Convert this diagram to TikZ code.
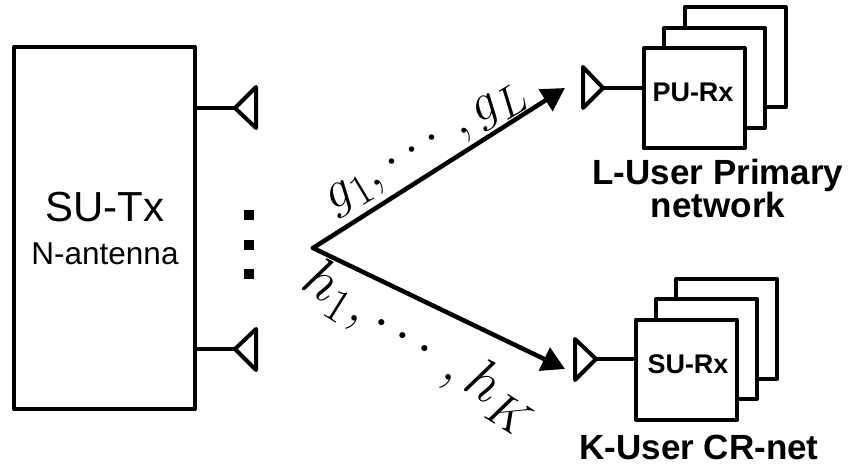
\documentclass[tikz,border=0pt]{standalone}
\usepackage{amsmath, amssymb}
\usepackage{fontspec}
\setmainfont{Liberation Sans}
\usepackage{tikz}
\usetikzlibrary{arrows.meta, positioning}

\tikzset{
    blockbox/.style={draw=black, fill=white, line width=4pt, line join=round, inner sep=0pt, outer sep=0pt},
    rxbox/.style={blockbox, minimum width=101pt, minimum height=100pt},
    wire/.style={line width=3.5pt},
    antenna/.style={line width=4pt, line join=round},
    linkarrow/.style={-{Triangle[length=23pt,width=25pt]}, line width=4.5pt, line cap=round},
    dotmark/.style={fill=black, inner sep=0pt, outer sep=0pt, minimum size=10pt},
    netlabel/.style={font=\fontsize{35}{40}\selectfont\bfseries, align=center, inner sep=0pt},
    rxlabel/.style={font=\fontsize{27}{30}\selectfont\bfseries, inner sep=0pt},
    chlabel/.style={font=\Huge, inner sep=0pt}
}

\begin{document}
\begin{tikzpicture}[x=1pt, y=-1pt]
    \useasboundingbox (0, 0) rectangle (850, 470);

    % Transmitter block
    \node[blockbox, minimum width=181pt, minimum height=362pt] (suTx) at (104.5, 228) {};
    \node[font=\fontsize{42}{46}\selectfont, inner sep=0pt] (suTxName) at (105, 207) {SU-Tx};
    \node[font=\fontsize{31.5}{34}\selectfont, inner sep=0pt] (suTxAnt) at (105, 254) {N-antenna};

    % Transmit antennas
    \coordinate (antTop) at (235, 108);
    \coordinate (antBot) at (235, 349);
    \draw[wire] (suTx.east |- antTop) -- (antTop);
    \draw[wire] (suTx.east |- antBot) -- (antBot);
    \draw[antenna] (antTop) -- ++(21, -21) -- ++(0, 41) -- cycle;
    \draw[antenna] (antBot) -- ++(21, -20) -- ++(0, 41) -- cycle;

    % Dots between the antennas
    \node[dotmark] (dotA) at (249, 215) {};
    \node[dotmark] (dotB) at (249, 245) {};
    \node[dotmark] (dotC) at (249, 274) {};

    % Primary receivers
    \node[rxbox] (puBack) at (735, 57.5) {};
    \node[rxbox] (puMid) at (714.5, 78) {};
    \node[rxbox] (puRx) at (694, 98) {};
    \node[rxlabel] (puName) at (693, 92) {PU-Rx};
    \coordinate (puAnt) at (603, 88);
    \draw[wire] (puAnt) -- (puAnt -| puRx.west);
    \draw[antenna] (puAnt) -- ++(-20, -21) -- ++(0, 41) -- cycle;
    \node[netlabel, anchor=base] (puNet) at (718, 185) {L-User Primary};
    \node[netlabel, anchor=base] (puNetB) at (718, 218) {network};

    % Secondary receivers
    \node[rxbox] (suBack) at (726.5, 329) {};
    \node[rxbox] (suMid) at (706.5, 349) {};
    \node[rxbox] (suRx) at (686.5, 369.5) {};
    \node[rxlabel] (suName) at (688, 364) {SU-Rx};
    \coordinate (suAnt) at (596, 359);
    \draw[wire] (suAnt) -- (suAnt -| suRx.west);
    \draw[antenna] (suAnt) -- ++(-21, -20) -- ++(0, 41) -- cycle;
    \node[netlabel, anchor=base] (suNet) at (699, 459) {K-User CR-net};

    % Channel arrows
    \coordinate (hub) at (313, 248);
    \coordinate (puTip) at (565, 88);
    \coordinate (suTip) at (565, 369);
    \draw[linkarrow] (hub) -- (puTip);
    \draw[linkarrow] (hub) -- (suTip);
    \node[chlabel, scale=2.1, rotate=31] (gLabel) at (427, 149) {$g_1,\cdots,g_L$};
    \node[chlabel, scale=2.3, rotate=-32] (hLabel) at (420, 347) {$h_1,\cdots,h_K$};
\end{tikzpicture}
\end{document}
